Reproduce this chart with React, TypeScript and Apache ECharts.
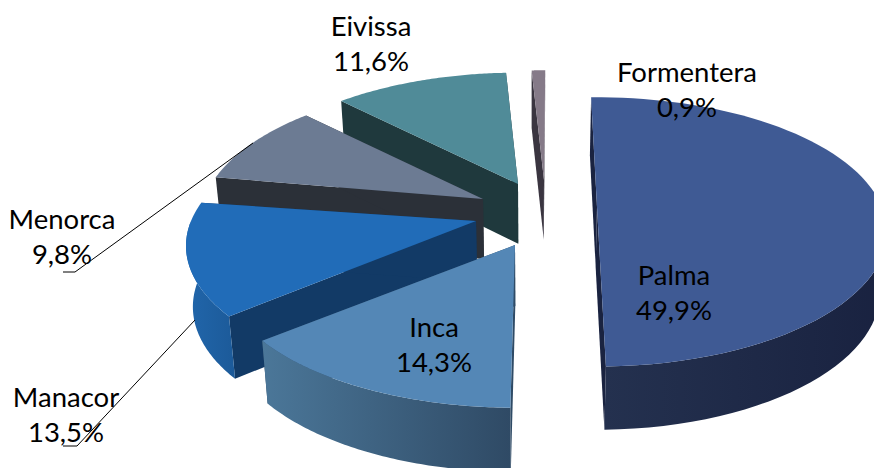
import React, { useEffect, useRef } from "react";
import * as echarts from "echarts";

const names = ["Palma", "Inca", "Manacor", "Menorca", "Eivissa", "Formentera"];
const shares = [49.9, 14.3, 13.5, 9.8, 11.6, 0.9];
const topColors = ["#3f5a94", "#5487b6", "#216cb8", "#6c7b93", "#508b98", "#857a88"];
const edgeColors = ["#1a2340", "#2f4b66", "#123a66", "#2b3038", "#1f393d", "#3a3540"];
const wallLeft = ["#24314f", "#4b7799", "#2166ab", "#2b3038", "#1f393d", "#3a3540"];
const wallRight = ["#192240", "#2f4a65", "#1c5a99", "#2b3038", "#1f393d", "#3a3540"];
const drawOrder = [5, 4, 3, 2, 0, 1];

// layout of the exploded 3D projection (one entry per slice, same order as names)
const apexX = [597, 515, 476, 483, 518, 544];
const apexY = [207, 245, 221, 199, 184, 180];
const startTweak = [0, 2.5, 0, 1.2, 1.8, 1.7];
const endTweak = [0.3, 0.7, 0, 0.7, 1.8, 1.7];
const radiusXTweak = [1, 1.015, 1, 0.98, 1, 1];
const radiusYTweak = [1, 1.02, 1, 1.04, 1.015, 1];
const START = -1.4, RX = 285, RY = 130, PERSP = 0.185, VANISH_X = 530;

const labelX = [674, 434, 66, 62, 371, 687];
const labelY = [292, 344, 414, 236, 43, 89];

const leaderLines = [
  [[63, 272], [75, 272], [253, 143]],
  [[63, 446], [77, 446], [195, 320]],
];

const total = shares.reduce((a, b) => a + b, 0);
const starts: number[] = [];
shares.reduce((acc, v, i) => {
  starts[i] = acc;
  return acc + (v / total) * 360;
}, START);

function rim(i: number, deg: number): number[] {
  const t = (deg * Math.PI) / 180;
  const x = Math.sin(t);
  const y = -Math.cos(t);
  const s = 1 / (1 - PERSP * y);
  return [apexX[i] + RX * radiusXTweak[i] * x * s, apexY[i] + RY * radiusYTweak[i] * y * s];
}
function drop(p: number[]): number[] {
  return [p[0] + (VANISH_X - p[0]) * 0.02, p[1] + 60 + (p[1] - 200) * 0.02];
}

function renderSlice(_params: any, api: any) {
  const i = api.value(0);
  const a0 = starts[i] + startTweak[i];
  const a1 = starts[i] + (shares[i] / total) * 360 + endTweak[i];
  const apex = [apexX[i], apexY[i]];
  const N = 72;
  const arc: number[][] = [];
  for (let k = 0; k <= N; k++) arc.push(rim(i, a0 + ((a1 - a0) * k) / N));
  const front = arc.filter((p) => p[1] - apexY[i] > 0);
  const children: any[] = [];
  const quad = (a: number[], b: number[]) => ({
    type: "polygon",
    shape: { points: [a, b, drop(b), drop(a)] },
    style: { fill: edgeColors[i] },
  });
  children.push(quad(apex, arc[0]));
  children.push(quad(apex, arc[N]));
  if (front.length > 1) {
    children.push({
      type: "polygon",
      shape: { points: front.concat(front.slice().reverse().map(drop)) },
      style: {
        fill: new echarts.graphic.LinearGradient(0, 0, 1, 0, [
          { offset: 0, color: wallLeft[i] },
          { offset: 1, color: wallRight[i] },
        ]),
      },
    });
  }
  children.push({
    type: "polygon",
    shape: { points: [apex, ...arc] },
    style: { fill: topColors[i] },
  });
  return { type: "group", children };
}

const fmt = (v: number) => v.toFixed(1).replace(".", ",") + "%";

export default function App() {
  const ref = useRef<HTMLDivElement>(null);
  useEffect(() => {
    const chart = echarts.init(ref.current!, null, { renderer: "svg" });
    chart.setOption({
      animation: false,
      backgroundColor: "#ffffff",
      series: [
        {
          type: "custom",
          coordinateSystem: "none",
          silent: true,
          clip: false,
          renderItem: renderSlice,
          data: drawOrder.map((i) => ({ name: names[i], value: [i, shares[i]] })),
        },
      ],
      graphic: [
        ...leaderLines.map((points) => ({
          type: "polyline",
          z: 10,
          shape: { points },
          style: { stroke: "#000", lineWidth: 1, fill: "none" },
        })),
        ...names.map((name, i) => ({
          type: "text",
          z: 20,
          x: labelX[i],
          y: labelY[i],
          style: {
            text: `${name}\n${fmt(shares[i])}`,
            font: "400 27.5px Lato",
            fill: "#000",
            align: "center",
            verticalAlign: "middle",
            lineHeight: 35,
          },
        })),
      ],
    });
    return () => chart.dispose();
  }, []);
  return (
    <div
      ref={ref}
      style={{ position: "absolute", left: 0, top: 0, width: 874, height: 468, overflow: "hidden" }}
    />
  );
}
